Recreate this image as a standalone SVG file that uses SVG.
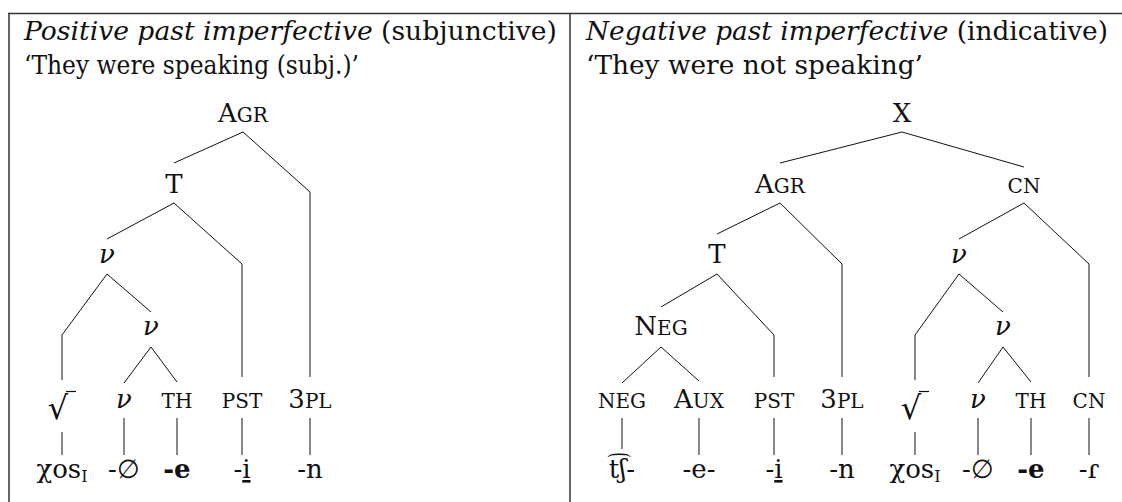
<svg xmlns="http://www.w3.org/2000/svg" width="1122" height="502" viewBox="0 0 1122 502">
<style>
text{font-family:"DejaVu Serif","Liberation Serif",serif;font-size:26px;fill:#111}
.h{font-size:26px}
.n{text-anchor:middle}
.sc{font-size:20px}
.it{font-style:italic}
.b{font-weight:bold}
.sub{font-size:16px}
.rt{font-size:32px}
.c line,.c polyline{stroke:#111;stroke-width:1;fill:none}
.frame{stroke:#333;stroke-width:1.5;fill:none}
</style>
<rect width="1122" height="502" fill="#fff"/>
<g id="table">
<line class="frame" x1="8" y1="13.5" x2="1122" y2="13.5" stroke="#777"/>
<line class="frame" x1="9" y1="13" x2="9" y2="502"/>
<line class="frame" x1="570" y1="13" x2="570" y2="502"/>
</g>
<g id="header-left">
<text class="h" x="24" y="40" textLength="533" lengthAdjust="spacingAndGlyphs"><tspan class="it">Positive past imperfective</tspan> (subjunctive)</text>
<text class="h" x="24" y="74" textLength="335" lengthAdjust="spacingAndGlyphs">‘They were speaking (subj.)’</text>
</g>
<g id="header-right">
<text class="h" x="586" y="40" textLength="522" lengthAdjust="spacingAndGlyphs"><tspan class="it">Negative past imperfective</tspan> (indicative)</text>
<text class="h" x="586" y="74" textLength="337" lengthAdjust="spacingAndGlyphs">‘They were not speaking’</text>
</g>
<g class="c" id="connectors">
<!-- left tree -->
<line x1="243" y1="132" x2="174" y2="163"/>
<polyline points="243,132 310,192 310,377"/>
<line x1="174" y1="203" x2="107" y2="239"/>
<polyline points="174,203 242,264 242,377"/>
<polyline points="107,274 62,335 62,380"/>
<line x1="107" y1="274" x2="151" y2="312"/>
<line x1="151" y1="347" x2="124" y2="383"/>
<line x1="151" y1="347" x2="177" y2="382"/>
<line x1="62" y1="432" x2="62" y2="455"/>
<line x1="124" y1="418" x2="124" y2="455"/>
<line x1="177" y1="418" x2="177" y2="455"/>
<line x1="242" y1="418" x2="242" y2="455"/>
<line x1="310" y1="418" x2="310" y2="455"/>
<!-- right tree -->
<line x1="902" y1="132" x2="780" y2="163"/>
<line x1="902" y1="132" x2="1024" y2="167"/>
<line x1="780" y1="203" x2="717" y2="234"/>
<polyline points="780,203 842,264 842,377"/>
<line x1="1024" y1="203" x2="959" y2="239"/>
<polyline points="1024,203 1089,264 1089,377"/>
<line x1="717" y1="274" x2="661" y2="307"/>
<polyline points="717,274 774,335 774,377"/>
<polyline points="959,274 915,335 915,380"/>
<line x1="959" y1="274" x2="1003" y2="312"/>
<line x1="661" y1="347" x2="622" y2="383"/>
<line x1="661" y1="347" x2="699" y2="381"/>
<line x1="1003" y1="347" x2="978" y2="383"/>
<line x1="1003" y1="347" x2="1031" y2="382"/>
<line x1="622" y1="418" x2="622" y2="449"/>
<line x1="699" y1="418" x2="699" y2="455"/>
<line x1="774" y1="418" x2="774" y2="455"/>
<line x1="842" y1="418" x2="842" y2="455"/>
<line x1="915" y1="432" x2="915" y2="455"/>
<line x1="978" y1="418" x2="978" y2="455"/>
<line x1="1031" y1="418" x2="1031" y2="455"/>
<line x1="1089" y1="418" x2="1089" y2="455"/>
</g>
<!-- left tree nodes -->
<g id="L-agr"><text class="n" x="243" y="122">A<tspan class="sc">GR</tspan></text></g>
<g id="L-t"><text class="n" x="174" y="193">T</text></g>
<g id="L-v1"><text class="n it" x="107" y="263">ν</text></g>
<g id="L-v2"><text class="n it" x="151" y="335">ν</text></g>
<g id="L-root"><text class="n rt" x="58" y="419">√</text><line x1="66" y1="391.5" x2="76" y2="391.5" stroke="#111" stroke-width="1.2"/></g>
<g id="L-v3"><text class="n it" x="124" y="408">ν</text></g>
<g id="L-th"><text class="n sc" x="177" y="408">TH</text></g>
<g id="L-pst"><text class="n sc" x="242" y="408">PST</text></g>
<g id="L-3pl"><text class="n" x="310" y="408">3<tspan class="sc">PL</tspan></text></g>
<g id="L-xos"><text class="n" x="62" y="478">χos<tspan class="sub" dy="4">I</tspan></text></g>
<g id="L-null"><text class="n" x="124" y="478">-∅</text></g>
<g id="L-e"><text class="n b" x="177" y="478">-e</text></g>
<g id="L-i"><text class="n" x="242" y="478">-<tspan text-decoration="underline">i</tspan></text></g>
<g id="L-n"><text class="n" x="310" y="478">-n</text></g>
<!-- right tree nodes -->
<g id="R-x"><text class="n" x="902" y="122">X</text></g>
<g id="R-agr"><text class="n" x="780" y="193">A<tspan class="sc">GR</tspan></text></g>
<g id="R-cn"><text class="n sc" x="1024" y="193">CN</text></g>
<g id="R-t"><text class="n" x="717" y="263">T</text></g>
<g id="R-v1"><text class="n it" x="959" y="263">ν</text></g>
<g id="R-neg"><text class="n" x="661" y="335">N<tspan class="sc">EG</tspan></text></g>
<g id="R-v2"><text class="n it" x="1003" y="335">ν</text></g>
<g id="R-neg-l"><text class="n sc" x="622" y="408">NEG</text></g>
<g id="R-aux"><text class="n" x="699" y="408">A<tspan class="sc">UX</tspan></text></g>
<g id="R-pst"><text class="n sc" x="774" y="408">PST</text></g>
<g id="R-3pl"><text class="n" x="842" y="408">3<tspan class="sc">PL</tspan></text></g>
<g id="R-root"><text class="n rt" x="911" y="419">√</text><line x1="919" y1="391.5" x2="929" y2="391.5" stroke="#111" stroke-width="1.2"/></g>
<g id="R-v3"><text class="n it" x="978" y="408">ν</text></g>
<g id="R-th"><text class="n sc" x="1031" y="408">TH</text></g>
<g id="R-cn2"><text class="n sc" x="1089" y="408">CN</text></g>
<g id="R-tsh"><text class="n" x="622" y="478">t͡ʃ-</text></g>
<g id="R-e1"><text class="n" x="699" y="478">-e-</text></g>
<g id="R-i"><text class="n" x="774" y="478">-<tspan text-decoration="underline">i</tspan></text></g>
<g id="R-n"><text class="n" x="842" y="478">-n</text></g>
<g id="R-xos"><text class="n" x="915" y="478">χos<tspan class="sub" dy="4">I</tspan></text></g>
<g id="R-null"><text class="n" x="978" y="478">-∅</text></g>
<g id="R-e2"><text class="n b" x="1031" y="478">-e</text></g>
<g id="R-r"><text class="n" x="1089" y="478">-ɾ</text></g>
</svg>
